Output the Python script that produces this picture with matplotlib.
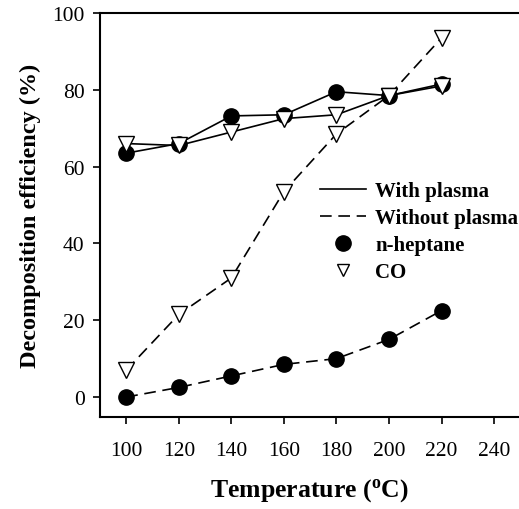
import matplotlib
matplotlib.use('Agg')
import matplotlib.pyplot as plt
from matplotlib.lines import Line2D

plt.rcParams['font.family'] = 'Liberation Serif'
plt.rcParams['mathtext.fontset'] = 'custom'
plt.rcParams['mathtext.rm'] = 'Liberation Serif:bold'
plt.rcParams['mathtext.bf'] = 'Liberation Serif:bold'

temps = [100, 120, 140, 160, 180, 200, 220]
heptane_plasma = [63.5, 66.0, 73.2, 73.5, 79.5, 78.5, 81.5]
co_plasma = [66.0, 65.5, 69.0, 72.5, 73.5, 78.5, 81.0]
co_no_plasma = [7.0, 21.5, 31.0, 53.5, 68.5, 78.5, 93.5]
heptane_no_plasma = [0.0, 2.5, 5.5, 8.5, 10.0, 15.0, 22.5]

fig = plt.figure(figsize=(5.19, 5.10), dpi=100)
ax = fig.add_axes([100 / 519, 1 - 418 / 510, 1 - 100 / 519, (418 - 14) / 510])

ms = 11
dash = (0, (7, 4))
ax.plot(temps, heptane_plasma, color='black', lw=1.2, marker='o', ms=ms,
        mfc='black', mec='black', zorder=3)
ax.plot(temps, co_plasma, color='black', lw=1.2, marker='v', ms=ms,
        mfc='white', mec='black', zorder=3)
ax.plot(temps, co_no_plasma, color='black', lw=1.2, ls=dash, marker='v', ms=ms,
        mfc='white', mec='black', zorder=3)
ax.plot(temps, heptane_no_plasma, color='black', lw=1.2, ls=dash, marker='o', ms=ms,
        mfc='black', mec='black', zorder=3)

ax.set_xlim(90, 249.5)
ax.set_ylim(-5.2, 100)
ax.set_xticks(range(100, 241, 20))
ax.set_yticks(range(0, 101, 20))
ax.tick_params(direction='out', length=5, width=1.2, labelsize=15.5)
ax.tick_params(axis='x', pad=12)
ax.tick_params(axis='y', pad=6)
for s in ['left', 'bottom', 'top']:
    ax.spines[s].set_linewidth(1.5)
ax.spines['right'].set_visible(False)

ax.set_ylabel('Decomposition efficiency (%)', fontsize=17.5, fontweight='bold', labelpad=8)
ax.set_xlabel(r'Temperature ($\mathregular{^o}$C)', fontsize=18.5, fontweight='bold', labelpad=12)

handles = [
    Line2D([], [], color='black', lw=1.2, ls='-'),
    Line2D([], [], color='black', lw=1.2, ls=dash),
    Line2D([], [], color='black', ls='none', marker='o', ms=ms, mfc='black', mec='black'),
    Line2D([], [], color='black', ls='none', marker='v', ms=ms * 0.8, mfc='white', mec='black'),
]
labels = ['With plasma', 'Without plasma', 'n-heptane', 'CO']
ax.legend(handles, labels, loc='upper left', bbox_to_anchor=(0.48, 0.63), frameon=False,
          prop={'weight': 'bold', 'size': 15}, handlelength=2.2, labelspacing=0.33,
          handletextpad=0.45)

fig.savefig('out.png', dpi=100)
